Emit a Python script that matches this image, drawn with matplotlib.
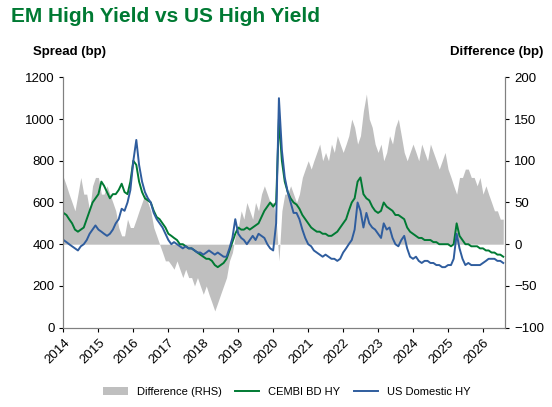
import numpy as np
import pandas as pd
import matplotlib
matplotlib.use("Agg")
import matplotlib.pyplot as plt

plt.rcParams['font.family'] = ['Liberation Sans', 'DejaVu Sans']

# monthly readings, Jan 2014 .. Aug 2026
us_hy = [
    420, 410, 400, 390, 380, 370, 390, 400, 420, 450, 470, 490,
    470, 460, 450, 440, 450, 470, 500, 520, 570, 560, 600, 660,
    800, 900, 780, 700, 650, 620, 600, 550, 520, 500, 480, 450,
    420, 400, 410, 400, 390, 380, 390, 380, 380, 370, 360, 360,
    350, 360, 370, 360, 350, 360, 350, 340, 340, 380, 430, 520,
    450, 430, 420, 400, 420, 440, 420, 450, 440, 430, 400, 380,
    370, 500, 1100, 850, 720, 650, 600, 550, 550, 520, 470, 430,
    400, 390, 370, 360, 350, 340, 350, 340, 330, 330, 320, 330,
    360, 380, 400, 420, 470, 600, 560, 480, 550, 500, 480, 470,
    450, 430, 500, 470, 480, 430, 400, 390, 420, 440, 380, 340,
    330, 340, 320, 310, 320, 320, 310, 310, 300, 300, 290, 290,
    300, 300, 330, 450, 380, 330, 300, 310, 300, 300, 300, 300,
    310, 320, 330, 330, 330, 320, 320, 310,
]
cembi_hy = [
    550, 540, 520, 500, 470, 460, 470, 480, 520, 560, 600, 620,
    640, 700, 680, 650, 620, 640, 640, 660, 690, 650, 640, 700,
    800, 780, 700, 650, 620, 610, 600, 560, 530, 520, 500, 480,
    450, 440, 430, 420, 400, 400, 390, 380, 380, 370, 360, 350,
    340, 330, 330, 320, 300, 290, 300, 310, 330, 370, 410, 450,
    480, 470, 470, 480, 470, 480, 490, 500, 530, 560, 580, 600,
    580, 600, 1000, 800, 700, 650, 620, 600, 590, 570, 540, 520,
    500, 480, 470, 460, 460, 450, 450, 440, 440, 450, 460, 480,
    500, 520, 560, 600, 620, 700, 720, 640, 620, 610, 580, 560,
    550, 560, 600, 580, 570, 560, 540, 540, 530, 520, 480, 460,
    450, 440, 430, 430, 420, 420, 420, 410, 410, 400, 400, 400,
    400, 390, 400, 500, 440, 420, 400, 400, 390, 390, 390, 380,
    380, 370, 370, 360, 360, 350, 350, 340,
]
difference = [
    80, 70, 60, 50, 40, 60, 80, 60, 60, 40, 70, 80,
    80, 60, 60, 70, 60, 50, 40, 20, 10, 10, 30, 20,
    20, 30, 40, 50, 60, 50, 40, 20, 10, 0, -10, -20,
    -20, -25, -30, -20, -30, -40, -30, -40, -40, -50, -40, -50,
    -60, -50, -60, -70, -80, -70, -60, -50, -40, -20, -10, 10,
    20, 40, 30, 50, 40, 30, 50, 40, 60, 70, 60, 50,
    50, 30, -20, 40, 60, 60, 70, 60, 50, 60, 80, 90,
    100, 90, 100, 110, 120, 100, 110, 100, 120, 110, 130, 120,
    110, 120, 130, 150, 140, 120, 130, 160, 180, 150, 140, 120,
    110, 120, 100, 110, 130, 120, 140, 150, 130, 110, 100, 110,
    120, 110, 100, 120, 110, 100, 120, 110, 100, 90, 100, 110,
    90, 80, 70, 60, 80, 80, 90, 90, 80, 80, 70, 80,
    60, 70, 60, 50, 40, 40, 30, 30,
]
dates = pd.date_range("2014-01-01", periods=len(us_hy), freq="MS")
years = list(range(2014, 2027))

GREY = '#BFBFBF'
GREEN = '#007A33'
BLUE = '#2F5D9E'

fig = plt.figure(figsize=(5.52, 4.07), dpi=100)
ax = fig.add_axes([0.115, 0.195, 0.8, 0.615])
ax2 = ax.twinx()

ax2.fill_between(dates, 0, difference, color=GREY, lw=0, label='Difference (RHS)')
ax2.set_ylim(-100, 200)
ax2.set_yticks(range(-100, 201, 50))

ax.set_zorder(ax2.get_zorder() + 1)
ax.patch.set_visible(False)
ax.plot(dates, cembi_hy, color=GREEN, lw=1.4, label='CEMBI BD HY')
ax.plot(dates, us_hy, color=BLUE, lw=1.4, label='US Domestic HY')
ax.set_ylim(0, 1200)
ax.set_yticks(range(0, 1201, 200))
ax.set_xlim(pd.Timestamp("2014-01-01"), pd.Timestamp("2026-08-20"))
ax.set_xticks([pd.Timestamp(f"{y}-01-01") for y in years])
ax.set_xticklabels([str(y) for y in years], rotation=45, ha='right', rotation_mode='anchor')

for a in (ax, ax2):
    a.spines['top'].set_visible(False)
    a.tick_params(labelsize=9.5, length=3)
    for s in ('left', 'right', 'bottom'):
        a.spines[s].set_color('#808080')

fig.text(0.02, 0.945, 'EM High Yield vs US High Yield', color=GREEN, fontsize=15, fontweight='bold')
fig.text(0.06, 0.865, 'Spread (bp)', fontsize=9.5, fontweight='bold')
fig.text(0.985, 0.865, 'Difference (bp)', fontsize=9.5, fontweight='bold', ha='right')

h1, l1 = ax2.get_legend_handles_labels()
h2, l2 = ax.get_legend_handles_labels()
fig.legend(h1 + h2, l1 + l2, loc='lower center', bbox_to_anchor=(0.52, 0.0), ncol=3,
           frameon=False, fontsize=8, handlelength=2.2, columnspacing=1.2)

fig.savefig("out.png", dpi=100)
